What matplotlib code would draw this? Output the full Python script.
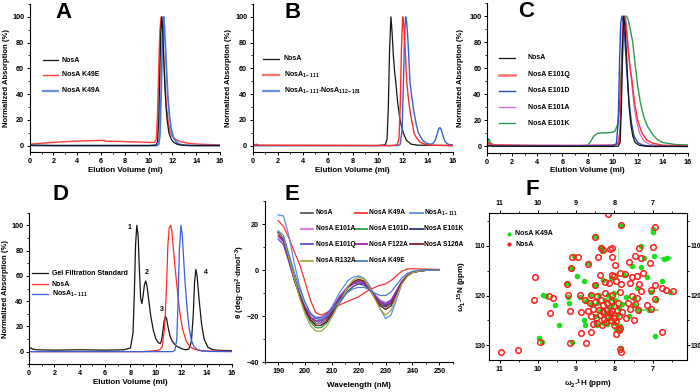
import matplotlib
matplotlib.use("Agg")
import matplotlib.pyplot as plt
from matplotlib.lines import Line2D
from matplotlib.ticker import MultipleLocator

plt.rcParams['font.family'] = ['Liberation Sans', 'DejaVu Sans']
plt.rcParams['font.weight'] = 'bold'
plt.rcParams['mathtext.fontset'] = 'custom'
plt.rcParams['mathtext.rm'] = 'Liberation Sans:bold'
plt.rcParams['mathtext.bf'] = 'Liberation Sans:bold'
plt.rcParams['mathtext.it'] = 'Liberation Sans:bold'
plt.rcParams['mathtext.default'] = 'rm'

W, H = 700, 392

# ---------------- Panel A data ----------------
a_nosa_x = [0, 2, 4, 6, 8, 10, 10.6, 10.75, 10.85, 10.95, 11.02, 11.1, 11.18, 11.26, 11.35, 11.45, 11.55, 11.7, 11.9, 12.1, 12.4, 12.8, 13.5, 16]
a_nosa_y = [0.3, 0, 0, 0, 0, 0, 0.3, 3, 20, 60, 88, 100, 90, 70, 49, 32, 20, 10, 5, 2.5, 1, 0.3, 0, 0]
a_k49e_x = [0, 0.3, 1, 2, 3, 4, 5, 6, 6.25, 6.35, 7, 8, 9, 10, 10.5, 10.65, 10.75, 10.85, 10.95, 11.05, 11.12, 11.2, 11.3, 11.4, 11.5, 11.65, 11.8, 12.0, 12.3, 12.7, 13.2, 14, 15, 16]
a_k49e_y = [1, 1.3, 1.8, 2.5, 3, 3.5, 3.8, 4.0, 4.1, 3.4, 3.3, 3.1, 2.8, 2.5, 2.4, 5, 25, 62, 90, 100, 95, 82, 62, 44, 30, 18, 11, 7, 4.5, 3, 2, 1.2, 0.8, 0.5]
a_k49a_x = [0, 10.7, 10.85, 10.95, 11.05, 11.15, 11.25, 11.33, 11.42, 11.52, 11.62, 11.75, 11.9, 12.1, 12.35, 12.6, 13, 14, 16]
a_k49a_y = [0, 0, 1, 8, 40, 80, 100, 92, 75, 55, 38, 23, 13, 6, 2.5, 1, 0.3, 0, 0]

# ---------------- Panel B data ----------------
b_nosa_x = [0, 10, 10.6, 10.75, 10.85, 10.95, 11.06, 11.15, 11.25, 11.35, 11.45, 11.6, 11.8, 12.04, 12.3, 12.7, 13.2, 16]
b_nosa_y = [0, 0, 0.5, 5, 30, 75, 100, 88, 70, 58, 49, 33, 19, 10, 4, 1, 0.3, 0]
b_n111_x = [0, 0.3, 0.5, 11, 11.55, 11.7, 11.8, 11.9, 12.0, 12.08, 12.18, 12.32, 12.45, 12.6, 12.9, 13.1, 13.4, 13.8, 14.2, 16]
b_n111_y = [0.3, 1, 0.3, 0, 0.5, 5, 30, 75, 100, 95, 78, 50, 37, 26, 10, 6, 2.5, 1, 0.3, 0]
b_comb_x = [0, 11.6, 11.8, 11.95, 12.05, 12.15, 12.24, 12.32, 12.42, 12.58, 12.7, 12.9, 13.1, 13.25, 13.6, 13.9, 14.2, 14.4, 14.6, 14.75, 14.88, 14.98, 15.08, 15.2, 15.35, 15.5, 15.7, 16]
b_comb_y = [0, 0, 1, 12, 45, 85, 100, 96, 82, 50, 40, 26, 16, 10, 4, 1.8, 1, 1.5, 4, 9, 13, 14, 12.5, 8.5, 4, 1.8, 0.8, 0.5]

# ---------------- Panel C data ----------------
c_nosa_x = [0, 0.2, 0.4, 10, 10.45, 10.6, 10.7, 10.8, 10.88, 10.98, 11.1, 11.2, 11.3, 11.45, 11.6, 11.8, 12.1, 12.5, 13, 16]
c_nosa_y = [0, 0.5, 0.2, 0, 0.3, 3, 30, 80, 100, 92, 72, 50, 32, 17, 8, 3, 1, 0.3, 0, 0]
c_q_x = [0, 0.15, 0.3, 0.6, 2, 4, 6, 8, 9, 10, 10.3, 10.5, 10.6, 10.7, 10.8, 10.92, 11.0, 11.1, 11.25, 11.4, 11.55, 11.75, 12.0, 12.3, 12.7, 13.2, 14, 16]
c_q_y = [1, 3, 1.5, 1.2, 1, 0.8, 0.8, 0.8, 0.8, 1, 1.5, 3, 15, 55, 90, 100, 97, 88, 72, 60, 50, 33, 20, 11, 5, 2.5, 1, 0.5]
c_d_x = [0, 0.2, 0.4, 7.5, 8, 10, 10.3, 10.45, 10.55, 10.65, 10.75, 10.85, 10.95, 11.05, 11.15, 11.3, 11.5, 11.7, 12.0, 12.4, 13, 16]
c_d_y = [0, 1, 0.3, 0.5, 0.5, 0.5, 2, 20, 65, 95, 100, 95, 85, 70, 55, 35, 18, 8, 3, 1, 0.3, 0]
c_a_x = [0, 0.2, 0.4, 7.5, 8, 8.5, 9, 10, 10.4, 10.6, 10.75, 10.9, 11.0, 11.1, 11.2, 11.35, 11.5, 11.7, 11.9, 12.15, 12.5, 13, 14, 16]
c_a_y = [0.5, 2.5, 1, 0.8, 1, 1.2, 1.2, 1.2, 2, 12, 55, 92, 100, 94, 82, 65, 50, 32, 20, 10, 4, 1.5, 0.5, 0.3]
c_k_x = [0, 0.15, 0.3, 0.5, 1, 4, 7, 8, 8.2, 8.5, 8.8, 9.2, 9.6, 10.0, 10.2, 10.4, 10.55, 10.7, 10.85, 11.0, 11.1, 11.25, 11.4, 11.6, 11.8, 12.0, 12.2, 12.5, 12.8, 13.2, 13.6, 14, 15, 16]
c_k_y = [1.5, 6, 2.5, 1.5, 1, 0.5, 0.5, 0.8, 3, 8, 10, 10.5, 10.5, 11, 12, 17, 30, 60, 88, 99, 100, 97, 90, 80, 62, 46, 34, 22, 15, 9, 5, 3, 1.5, 1.2]

# ---------------- Panel D data ----------------
d_std_x = [0, 0.15, 0.3, 0.6, 2, 4, 6, 7.5, 8.0, 8.2, 8.3, 8.4, 8.5, 8.6, 8.7, 8.8, 8.9, 9.0, 9.1, 9.2, 9.3, 9.45, 9.6, 9.8, 10.0, 10.2, 10.35, 10.45, 10.55, 10.65, 10.75, 10.85, 10.95, 11.1, 11.3, 11.6, 12.0, 12.3, 12.6, 12.8, 12.95, 13.05, 13.15, 13.25, 13.4, 13.6, 13.8, 14.1, 14.5, 15, 16]
d_std_y = [1.5, 3, 2, 1.5, 1.2, 1.5, 1.2, 1.5, 3, 15, 45, 85, 100, 92, 65, 42, 38, 45, 53, 56, 52, 40, 28, 17, 10, 7, 6.5, 9, 16, 24, 28, 26, 20, 13, 8, 4.5, 2.5, 1.5, 2, 8, 30, 55, 65, 60, 42, 22, 10, 3.5, 1.5, 1, 0.8]
d_nosa_x = [0, 9, 9.6, 10.0, 10.3, 10.5, 10.7, 10.85, 10.95, 11.05, 11.16, 11.25, 11.35, 11.5, 11.7, 11.9, 12.1, 12.4, 12.7, 13.0, 13.5, 14, 16]
d_nosa_y = [0, 0, 0.5, 0.8, 1.5, 4, 20, 55, 85, 98, 100, 96, 85, 68, 48, 30, 18, 8, 4, 2, 1, 0.5, 0.3]
d_n111_x = [0, 11.3, 11.5, 11.65, 11.75, 11.85, 11.98, 12.08, 12.18, 12.3, 12.45, 12.6, 12.8, 13.0, 13.3, 13.6, 14, 16]
d_n111_y = [0, 0, 1, 10, 40, 80, 100, 92, 75, 55, 35, 20, 9, 4, 1.5, 0.5, 0.2, 0]
d_peak_labels = ['1', '2', '3', '4']
d_peak_x = [7.9, 9.27, 10.43, 13.9]
d_peak_y = [98, 63, 33, 63]

# ---------------- Panel E data (CD spectra) ----------------
wl = [190, 192, 194, 196, 198, 200, 202, 204, 206, 208, 210, 213, 216, 218, 220, 222, 224, 226, 228, 230, 232, 234, 236, 238, 240, 243, 246, 250]
cd_nosa  = [16.5, 13.5, 5, -3, -10, -16, -20.5, -23, -23, -21, -18, -12.5, -7.5, -5.5, -4.5, -5, -7.5, -11, -14, -15.5, -14, -9.5, -5, -2.5, -1, -0.3, 0, 0]
cd_k49a  = [21.5, 19, 14, 8, 2.5, -5, -13, -18.5, -19.5, -18.5, -17, -15, -13.5, -12.5, -11.5, -10, -8.5, -7.5, -6.5, -6, -4.5, -2.5, -0.5, 0.5, 0.6, 0.5, 0.4, 0.3]
cd_n111  = [24, 23.5, 15, 3, -7, -14, -19, -22, -22.5, -20, -16, -9.5, -4.5, -3, -2.5, -3.5, -6.5, -11.5, -17, -21, -19.5, -13, -6, -2.5, -1, 0, 0, 0]
cd_e101a = [14.5, 12, 4, -4, -11, -16, -19.5, -21, -21, -19.5, -16.5, -11, -7, -5.5, -5, -5.5, -7.5, -10.5, -13, -14, -13, -9, -5, -2.5, -1, -0.3, 0, 0]
cd_e101d = [16, 13.5, 5, -4, -11.5, -18, -22.5, -25, -25, -23, -19.5, -13, -7.5, -5, -4, -4.8, -7.5, -12, -15.5, -17, -15.5, -10.5, -5.5, -2.5, -1, -0.3, 0, 0]
cd_e101k = [16, 13, 4.5, -4, -11, -17, -21.5, -24, -24, -22.5, -19.5, -14, -9, -7, -6, -6.5, -8.5, -12, -14.8, -16, -14.5, -10, -5.5, -2.5, -1, -0.3, 0, 0]
cd_e101q = [13.5, 11, 3.5, -4.5, -11, -16, -19, -20.5, -20.5, -19, -16.5, -11.5, -7.5, -6, -5.5, -6, -8, -11, -13.5, -14.5, -13, -9, -5, -2.5, -1, -0.3, 0, 0]
cd_f122a = [15, 12.5, 4.5, -3.5, -11, -16.5, -20.5, -22, -22, -20.5, -17.5, -12, -7.5, -5.8, -5, -5.5, -8, -11.5, -14, -15, -13.8, -9.5, -5, -2.5, -1, -0.3, 0, 0]
cd_s126a = [16.5, 13.5, 5, -3.5, -11, -17, -21.5, -24, -24, -22, -18.5, -12.5, -7, -5, -4, -4.8, -7.5, -12, -15.5, -17, -15.5, -10.5, -5.5, -2.5, -1, -0.3, 0, 0]
cd_r132a = [16, 14, 5.5, -3.5, -12, -19, -24, -26.5, -26.5, -24.5, -20.5, -13.5, -7, -4.2, -3, -4, -7.5, -12.5, -17, -19.5, -17.5, -11.5, -6, -2.8, -1, -0.3, 0, 0]
cd_k49e  = [17, 15, 7, -1, -8, -14, -18.5, -21, -21.5, -20, -17.5, -13, -9.5, -8, -7.5, -7.5, -8.5, -10, -11, -11, -9.5, -6.5, -3.5, -1.5, -0.5, 0, 0, 0]

# ---------------- Panel F data (HSQC peaks) ----------------
nosa_H = [10.97, 10.52, 10.08, 10.10, 9.95, 9.72, 9.60, 9.68, 9.25, 9.22, 9.16, 9.14, 9.10, 9.15, 8.95, 8.90, 8.86, 8.88, 8.75, 8.78, 8.68, 8.62, 8.65, 8.70, 8.62, 8.62, 8.55, 8.55, 8.52, 8.50, 8.50, 8.48, 8.45, 8.45, 8.42, 8.40, 8.38, 8.37, 8.35, 8.34, 8.30, 8.30, 8.30, 8.32, 8.28, 8.25, 8.25, 8.22, 8.20, 8.20, 8.18, 8.15, 8.12, 8.12, 8.10, 8.10, 8.07, 8.06, 8.05, 8.05, 8.05, 8.02, 8.00, 8.00, 8.00, 7.98, 7.95, 7.95, 7.95, 7.92, 7.90, 7.88, 7.88, 7.85, 7.85, 7.85, 7.85, 7.82, 7.83, 7.82, 7.80, 7.72, 7.70, 7.65, 7.62, 7.60, 7.60, 7.55, 7.55, 7.50, 7.45, 7.45, 7.42, 7.42, 7.38, 7.35, 7.35, 7.30, 7.30, 7.25, 7.15, 7.08, 7.05, 7.05, 7.00, 6.95, 6.94, 6.93, 6.76, 6.75, 6.65, 6.48, 8.18]
nosa_N = [131.3, 130.9, 116.2, 121.0, 129.4, 120.0, 120.4, 123.5, 117.6, 119.8, 123.1, 114.5, 112.2, 129.5, 112.3, 119.8, 123.3, 127.6, 129.5, 121.0, 113.6, 119.9, 121.6, 123.2, 124.2, 127.3, 122.8, 125.7, 108.1, 117.9, 121.3, 124.5, 120.0, 125.5, 112.3, 123.0, 124.0, 115.9, 121.0, 110.4, 110.9, 122.0, 123.4, 125.9, 124.8, 117.2, 119.5, 125.3, 121.6, 122.9, 124.3, 117.5, 110.6, 123.5, 121.2, 125.0, 115.8, 112.3, 110.4, 119.8, 123.2, 124.6, 116.0, 122.2, 126.0, 113.8, 117.0, 125.2, 127.8, 123.0, 121.5, 124.2, 127.0, 115.4, 119.3, 126.5, 130.8, 131.3, 105.8, 117.6, 123.4, 115.7, 124.6, 121.6, 113.2, 117.4, 122.7, 116.3, 120.0, 125.0, 112.0, 121.8, 116.1, 120.5, 123.0, 110.5, 117.6, 112.5, 119.0, 115.5, 122.0, 113.5, 118.9, 122.8, 110.3, 120.8, 117.9, 106.1, 127.3, 118.5, 118.8, 119.1, 103.6]
k49a_H = [9.98, 9.90, 9.86, 9.78, 9.55, 9.45, 9.24, 9.22, 9.18, 9.14, 9.12, 9.05, 8.90, 8.80, 8.78, 8.75, 8.68, 8.65, 8.60, 8.55, 8.52, 8.52, 8.50, 8.48, 8.45, 8.42, 8.40, 8.38, 8.35, 8.32, 8.30, 8.30, 8.28, 8.25, 8.22, 8.20, 8.18, 8.15, 8.12, 8.10, 8.10, 8.08, 8.05, 8.02, 8.00, 7.98, 7.95, 7.92, 7.88, 7.86, 7.85, 7.82, 7.82, 7.80, 7.75, 7.70, 7.62, 7.55, 7.50, 7.48, 7.40, 7.35, 7.30, 7.30, 7.22, 7.15, 7.10, 7.05, 7.00, 6.98, 6.96, 6.94, 6.90, 6.75, 6.70, 6.62, 6.55, 8.80, 8.98]
k49a_N = [128.5, 129.3, 119.9, 120.0, 122.0, 126.0, 117.5, 120.2, 121.6, 114.4, 129.3, 112.1, 120.2, 125.0, 126.0, 121.2, 113.5, 119.8, 121.8, 122.0, 117.9, 108.0, 124.2, 125.8, 126.0, 121.5, 119.8, 123.2, 110.3, 111.0, 116.8, 125.6, 124.0, 121.0, 123.5, 125.8, 119.8, 122.5, 124.5, 116.5, 120.5, 123.8, 122.0, 125.5, 119.5, 121.0, 126.8, 124.0, 122.5, 127.0, 126.2, 130.5, 105.9, 121.8, 115.8, 120.3, 124.2, 114.0, 120.5, 122.0, 118.5, 123.0, 110.0, 114.3, 112.5, 116.2, 123.0, 119.2, 107.2, 106.5, 112.0, 128.1, 121.0, 117.0, 112.6, 112.4, 119.3, 117.0, 116.0]
# streaks of K49A signal
streak1_H = [7.45, 6.85]
streak1_N = [123.0, 123.0]
streak2_H = [7.90, 7.90]
streak2_N = [110.5, 128.5]
streak3_H = [6.78, 6.52]
streak3_N = [112.4, 112.4]

fig = plt.figure(figsize=(7, 3.92), dpi=100)


def add_ax(left, top, right, bottom):
    return fig.add_axes([left / W, 1 - bottom / H, (right - left) / W, (bottom - top) / H])


def style(ax, open_frame=True):
    if open_frame:
        ax.spines['top'].set_visible(False)
        ax.spines['right'].set_visible(False)
    for s in ax.spines.values():
        s.set_linewidth(0.8)
    ax.tick_params(which='major', direction='out', length=2.5, width=0.7, labelsize=5.2, pad=1.5)
    ax.tick_params(which='minor', direction='out', length=1.5, width=0.6)
    for lab in ax.get_xticklabels() + ax.get_yticklabels():
        lab.set_fontweight('bold')


def legend(entries, x0, x1, xt, ys, fs=5.0):
    for (label, color, lw), y in zip(entries, ys):
        fig.add_artist(Line2D([x0 / W, x1 / W], [1 - y / H, 1 - y / H], color=color, lw=lw))
        fig.text(xt / W, 1 - y / H, label, va='center', ha='left', fontsize=fs, fontweight='bold')


def letter(ch, x, y):
    fig.text(x / W, 1 - y / H, ch, fontsize=16, fontweight='bold', ha='center', va='center')


def elution_axes(ax, ylim, ylabx, xlaby):
    ax.set_xlim(0, 16)
    ax.set_ylim(*ylim)
    ax.xaxis.set_major_locator(MultipleLocator(2))
    ax.xaxis.set_minor_locator(MultipleLocator(1))
    ax.yaxis.set_major_locator(MultipleLocator(20))
    ax.yaxis.set_minor_locator(MultipleLocator(10))
    ax.set_yticks([0, 20, 40, 60, 80, 100])
    ax.set_ylabel('Normalized Absorption (%)', fontsize=5.5, fontweight='bold')
    ax.set_xlabel('Elution Volume (ml)', fontsize=5.8, fontweight='bold')
    ax.yaxis.set_label_coords(ylabx, 0.5)
    ax.xaxis.set_label_coords(0.5, xlaby)
    style(ax)


# Panel A
axA = add_ax(29.7, 4, 220, 152)
axA.plot(a_k49e_x, a_k49e_y, color='#ff3b3b', lw=1.0)
axA.plot(a_k49a_x, a_k49a_y, color='#4a78d8', lw=1.3)
axA.plot(a_nosa_x, a_nosa_y, color='#151515', lw=0.9)
elution_axes(axA, (-5, 110), -0.105, -0.098)
legend([('NosA', '#151515', 0.9), ('NosA K49E', '#ff3b3b', 1.0), ('NosA K49A', '#6a90e0', 1.6)],
       43, 58, 62, [60, 75, 90.7])
letter('A', 63, 12.5)

# Panel B
axB = add_ax(252.7, 4, 452.7, 152)
axB.plot(b_nosa_x, b_nosa_y, color='#151515', lw=0.9)
axB.plot(b_comb_x, b_comb_y, color='#3463d0', lw=1.0)
axB.plot(b_n111_x, b_n111_y, color='#ff2a2a', lw=1.0)
elution_axes(axB, (-5, 110), -0.1035, -0.098)
legend([('NosA', '#151515', 0.9), ('NosA$_{1-111}$', '#ff7070', 1.6),
        ('NosA$_{1-111}$-NosA$_{112-181}$', '#6a90e0', 1.6)],
       263, 279, 284, [58.7, 74.7, 90.7])
letter('B', 293, 12.5)

# Panel C
axC = add_ax(487, 3, 688, 153)
axC.plot(c_k_x, c_k_y, color='#2a9a50', lw=1.0)
axC.plot(c_a_x, c_a_y, color='#d070d0', lw=0.9)
axC.plot(c_q_x, c_q_y, color='#ff3030', lw=1.0)
axC.plot(c_d_x, c_d_y, color='#2848c0', lw=1.0)
axC.plot(c_nosa_x, c_nosa_y, color='#151515', lw=0.9)
elution_axes(axC, (-5, 110), -0.114, -0.095)
legend([('NosA', '#151515', 0.9), ('NosA E101Q', '#ff7070', 1.8), ('NosA E101D', '#2848c0', 1.0),
        ('NosA E101A', '#d070d0', 1.0), ('NosA E101K', '#2a9a50', 1.0)],
       499, 515, 527.7, [57.7, 75, 90.7, 107.3, 123.3])
letter('C', 526, 11.5)

# Panel D
axD = add_ax(29, 212.7, 232, 364.3)
axD.plot(d_std_x, d_std_y, color='#151515', lw=0.9)
axD.plot(d_nosa_x, d_nosa_y, color='#ff2a2a', lw=0.9)
axD.plot(d_n111_x, d_n111_y, color='#3a5ee0', lw=0.9)
for t, x, y in zip(d_peak_labels, d_peak_x, d_peak_y):
    axD.text(x, y, t, fontsize=5, fontweight='bold', ha='center', va='center')
elution_axes(axD, (-10, 110), -0.0985, -0.10)
legend([('Gel Filtration Standard', '#151515', 0.9), ('NosA', '#ff2a2a', 0.9), ('NosA$_{1-111}$', '#3a5ee0', 0.9)],
       31.7, 48, 52, [273.3, 284.3, 293.5])
letter('D', 61, 194)

# Panel E
axE = add_ax(264.7, 201, 452.8, 362.3)
cd_series = [
    ('NosA', '#5a5a5a', cd_nosa), ('NosA K49A', '#ff3030', cd_k49a), ('NosA$_{1-111}$', '#5a8ee0', cd_n111),
    ('NosA E101A', '#e070e0', cd_e101a), ('NosA E101D', '#22a045', cd_e101d), ('NosA E101K', '#2b3a70', cd_e101k),
    ('NosA E101Q', '#6050d0', cd_e101q), ('NosA F122A', '#a020a0', cd_f122a), ('NosA S126A', '#8b1a2a', cd_s126a),
    ('NosA R132A', '#a8a83a', cd_r132a), ('NosA K49E', '#4a7fc1', cd_k49e),
]
for lab, col, vals in cd_series:
    axE.plot(wl, vals, color=col, lw=0.9)
axE.set_xlim(185, 255)
axE.set_ylim(-40, 30)
axE.xaxis.set_major_locator(MultipleLocator(10))
axE.xaxis.set_minor_locator(MultipleLocator(5))
axE.yaxis.set_major_locator(MultipleLocator(20))
axE.yaxis.set_minor_locator(MultipleLocator(10))
axE.set_yticks([-40, -20, 0, 20])
axE.set_xlabel('Wavelength (nM)', fontsize=5.8, fontweight='bold')
axE.set_ylabel('θ (deg·cm$^{2}$·dmol$^{-3}$)', fontsize=5.8, fontweight='bold')
axE.yaxis.set_label_coords(-0.094, 0.5)
axE.xaxis.set_label_coords(0.5, -0.125)
style(axE)
col_x = [(300.7, 313.3, 315.5), (355, 367, 369.3), (410, 422.7, 424.3)]
row_y = [213, 229, 244, 260.5]
for i, (lab, col, vals) in enumerate(cd_series):
    r, c = divmod(i, 3)
    x0, x1, xt = col_x[c]
    legend([(lab, col, 1.3)], x0, x1, xt, [row_y[r]], fs=4.8)
letter('E', 292, 194)

# Panel F
axF = add_ax(489.3, 212.7, 686.7, 360)
axF.plot(streak2_H, streak2_N, color='#44ee44', lw=0.8, alpha=0.5)
axF.plot(streak1_H, streak1_N, color='#22dd22', lw=1.2, alpha=0.8)
axF.plot(streak3_H, streak3_N, color='#22dd22', lw=1.2, alpha=0.8)
axF.plot(k49a_H, k49a_N, 'o', color='#18e018', ms=4.0, mew=0, label='NosA K49A')
axF.plot(nosa_H, nosa_N, 'o', mfc='none', mec='#ff1e1e', ms=4.0, mew=1.1, label='NosA')
axF.set_xlim(11.27, 6.11)
axF.set_ylim(133, 103.3)
axF.set_xticks([11, 10, 9, 8, 7])
axF.set_yticks([110, 120, 130])
axF.xaxis.set_minor_locator(MultipleLocator(0.5))
axF.yaxis.set_minor_locator(MultipleLocator(5))
style(axF, open_frame=False)
axF.tick_params(top=True, right=True, labeltop=True, labelright=True, which='both')
axF.tick_params(axis='y', which='major', pad=0.8, length=2.0, labelsize=4.7)
axF.set_xlabel('ω$_{2}$-$^{1}$H (ppm)', fontsize=5.8, fontweight='bold')
axF.set_ylabel('ω$_{1}$-$^{15}$N (ppm)', fontsize=5.8, fontweight='bold')
axF.yaxis.set_label_coords(-0.103, 0.5)
axF.xaxis.set_label_coords(0.5, -0.118)
fig.add_artist(Line2D([509.3 / W], [1 - 233.7 / H], marker='o', color='#18e018', ms=3, mew=0, ls='none'))
fig.text(515 / W, 1 - 233.7 / H, 'NosA K49A', fontsize=5, fontweight='bold', va='center')
fig.add_artist(Line2D([509.3 / W], [1 - 244 / H], marker='o', color='#ff1e1e', ms=3, mew=0, ls='none'))
fig.text(515 / W, 1 - 244 / H, 'NosA', fontsize=5, fontweight='bold', va='center')
letter('F', 532, 190)

fig.savefig('out.png', dpi=100)
